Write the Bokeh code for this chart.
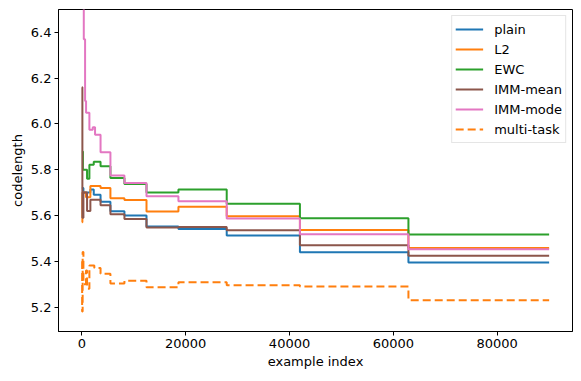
from bokeh.plotting import figure
from bokeh.models import Range1d, FixedTicker, NumeralTickFormatter, Legend, LegendItem
from bokeh.embed import file_html
from bokeh.resources import INLINE

# ---- data ----
plain_x = [0, 300, 1640, 2290, 3600, 5500, 8200, 12450, 18600, 27900, 42000, 62900, 90000]
plain_y = [5.72, 5.70, 5.713, 5.69, 5.66, 5.618, 5.60, 5.552, 5.541, 5.512, 5.439, 5.394, 5.394]

l2_x = [0, 100, 800, 1640, 3600, 5500, 8200, 12450, 18600, 27900, 42000, 62900, 90000]
l2_y = [5.57, 5.70, 5.68, 5.729, 5.72, 5.675, 5.668, 5.617, 5.638, 5.597, 5.537, 5.458, 5.458]

ewc_x = [0, 200, 1000, 1450, 2290, 3600, 5500, 8200, 12450, 18600, 27900, 42000, 62900, 90000]
ewc_y = [5.88, 5.80, 5.76, 5.822, 5.835, 5.815, 5.764, 5.738, 5.700, 5.713, 5.651, 5.588, 5.517, 5.517]

immmean_x = [0, 100, 300, 1000, 1640, 3600, 5500, 8200, 12450, 18600, 27900, 42000, 62900, 90000]
immmean_y = [6.16, 5.59, 5.70, 5.62, 5.669, 5.645, 5.605, 5.585, 5.547, 5.550, 5.535, 5.470, 5.4235, 5.4235]

immmode_x = [0, 370, 620, 810, 1450, 2100, 2540, 3600, 5500, 8200, 12450, 18600, 27900, 42000, 62900, 90000]
immmode_y = [6.70, 6.37, 6.10, 6.049, 5.975, 5.985, 5.953, 5.876, 5.775, 5.742, 5.684, 5.662, 5.587, 5.518, 5.452, 5.452]

multi_x = [0, 50, 150, 300, 800, 1000, 1450, 2400, 3600, 5500, 8200, 12450, 18600, 27900, 42000, 62900, 90000]
multi_y = [5.40, 5.18, 5.44, 5.30, 5.36, 5.28, 5.381, 5.371, 5.345, 5.303, 5.315, 5.286, 5.308, 5.295, 5.29, 5.23, 5.23]

x_ticks = [0, 20000, 40000, 60000, 80000]
y_ticks = [5.2, 5.4, 5.6, 5.8, 6.0, 6.2, 6.4]

FONT = "DejaVu Sans"
FS = "13px"

p = figure(output_backend="svg", toolbar_location=None,
           frame_width=514, frame_height=322,
           min_border_left=58, min_border_right=2, min_border_top=9, min_border_bottom=40,
           x_range=Range1d(-4500, 94500), y_range=Range1d(5.093, 6.5))

p.background_fill_color = "white"
p.border_fill_color = "white"
p.outline_line_color = "black"
p.outline_line_width = 1
p.outline_line_alpha = 1
p.xgrid.visible = False
p.ygrid.visible = False

series = [
    ("plain", plain_x, plain_y, "#1f77b4", None),
    ("L2", l2_x, l2_y, "#ff7f0e", None),
    ("EWC", ewc_x, ewc_y, "#2ca02c", None),
    ("IMM-mean", immmean_x, immmean_y, "#8c564b", None),
    ("IMM-mode", immmode_x, immmode_y, "#e377c2", None),
    ("multi-task", multi_x, multi_y, "#ff7f0e", "8 4"),
]

items = []
for name, xs, ys, col, dash in series:
    kw = dict(line_color=col, line_width=2, mode="after")
    if dash:
        kw["line_dash"] = dash
    r = p.step(xs, ys, **kw)
    items.append(LegendItem(label=name, renderers=[r]))

for ax in (p.xaxis[0], p.yaxis[0]):
    ax.axis_line_color = "black"
    ax.major_tick_line_color = "black"
    ax.major_tick_in = 0
    ax.major_tick_out = 4
    ax.minor_tick_line_color = None
    ax.major_label_text_font = FONT
    ax.major_label_text_font_size = FS
    ax.major_label_text_color = "black"
    ax.axis_label_text_font = FONT
    ax.axis_label_text_font_size = FS
    ax.axis_label_text_font_style = "normal"
    ax.axis_label_text_color = "black"
    ax.major_label_standoff = 3

p.xaxis[0].ticker = FixedTicker(ticks=x_ticks)
p.xaxis[0].formatter = NumeralTickFormatter(format="0")
p.xaxis[0].axis_label = "example index"
p.xaxis[0].axis_label_standoff = 3
p.yaxis[0].ticker = FixedTicker(ticks=y_ticks)
p.yaxis[0].formatter = NumeralTickFormatter(format="0.0")
p.yaxis[0].axis_label = "codelength"
p.yaxis[0].axis_label_standoff = 3

legend = Legend(items=items, location="top_right")
legend.margin = 6
legend.padding = 3
legend.spacing = 0
legend.glyph_width = 28
legend.glyph_height = 20
legend.label_height = 20
legend.label_standoff = 11
legend.label_text_font = FONT
legend.label_text_font_size = FS
legend.label_text_color = "black"
legend.border_line_color = "#cccccc"
legend.border_line_width = 1
legend.background_fill_color = "white"
legend.background_fill_alpha = 0.8
p.add_layout(legend, "center")

open("out.html", "w").write(file_html(p, INLINE))
